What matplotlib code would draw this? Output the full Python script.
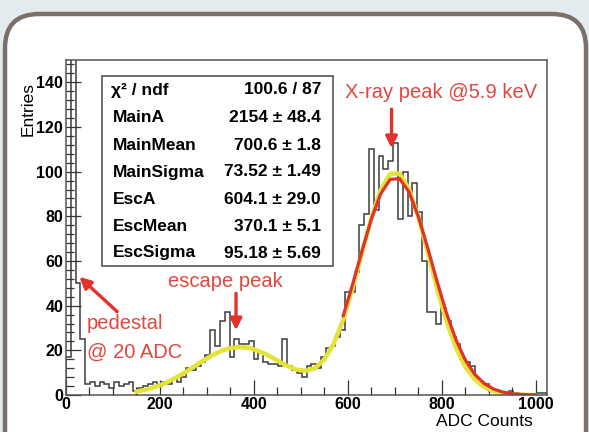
import matplotlib.pyplot as plt
import numpy as np
from matplotlib.patches import FancyBboxPatch, Rectangle
from matplotlib.ticker import MultipleLocator

W, H = 589, 432

# ADC spectrum, 100 bins over 0-1024
n_bins = 100
adc_max = 1024
counts = [
    17, 520, 50, 25, 5, 6, 4, 6, 5, 3,
    6, 4, 5, 6, 2, 3, 4, 5, 6, 4,
    6, 5, 7, 6, 8, 12, 11, 13, 15, 18,
    29, 22, 33, 37, 17, 25, 23, 23, 24, 16,
    19, 15, 14, 14, 13, 25, 13, 11, 10, 8,
    13, 14, 12, 17, 21, 22, 26, 29, 46, 46,
    55, 76, 81, 110, 83, 107, 101, 105, 113, 79,
    100, 80, 95, 82, 60, 37, 37, 32, 39, 33,
    26, 23, 16, 15, 13, 7, 6, 5, 2, 2,
    1, 1, 2, 1, 0, 0, 0, 0, 1, 1,
]

# total fit (yellow)
total_fit_x = [150, 170, 190, 210, 230, 250, 270, 290, 310, 330, 350, 370, 390, 410, 430,
               450, 470, 490, 510, 530, 550, 570, 590, 610, 630, 650, 670, 690, 710, 730,
               750, 770, 790, 810, 830, 850, 870, 890, 910, 930, 950, 970, 990, 1000]
total_fit_y = [1.5, 2.4, 3.6, 5.2, 7.3, 9.7, 12.4, 15.1, 17.6, 19.7, 21.0, 21.5, 21.1, 19.7, 17.8,
               15.4, 13.1, 11.4, 10.8, 12.0, 15.9, 23.0, 33.7, 47.7, 63.6, 79.2, 91.8, 99.0, 99.2, 92.3,
               79.8, 64.1, 47.7, 33.1, 21.3, 12.7, 7.0, 3.6, 1.7, 0.8, 0.3, 0.1, 0.0, 0.0]

# main peak fit (red)
main_fit_x = [590, 610, 630, 650, 670, 690, 710, 730, 750, 770, 790,
              810, 830, 850, 870, 890, 910, 930, 950, 970, 990, 1000]
main_fit_y = [35.4, 49.4, 64.4, 78.7, 90.1, 96.5, 96.9, 91.0, 80.0, 65.9, 50.8,
              36.7, 24.8, 15.7, 9.3, 5.2, 2.7, 1.3, 0.6, 0.25, 0.1, 0.1]

stat_names = ["MainA", "MainMean", "MainSigma", "EscA", "EscMean", "EscSigma"]
stat_values = ["2154 \u00b1 48.4", "700.6 \u00b1 1.8", "73.52 \u00b1 1.49",
               "604.1 \u00b1 29.0", "370.1 \u00b1 5.1", "95.18 \u00b1 5.69"]
chi2_text = "100.6 / 87"

RED = "#e3312b"
RED_TXT = "#e2463f"
YELLOW = "#e4e436"

plt.rcParams["font.family"] = ["Liberation Sans", "DejaVu Sans"]


def fx(x):
    return x / W


def fy(y):
    return 1 - y / H


fig = plt.figure(figsize=(W / 100, H / 100), dpi=100, facecolor="#e3ebef")

# background panel with rounded frame (pixel coordinates)
bg = fig.add_axes([0, 0, 1, 1], zorder=-1)
bg.set_xlim(0, W)
bg.set_ylim(H, 0)
bg.axis("off")
bg.add_patch(FancyBboxPatch((5, 14), 581, 460,
                            boxstyle="round,pad=0,rounding_size=34",
                            facecolor="white", edgecolor="#7b7069", linewidth=3.2))

ax = fig.add_axes([fx(66), fy(395), (547 - 66) / W, (395 - 60) / H])
edges = np.linspace(0, adc_max, n_bins + 1)
ax.stairs(counts, edges, color="#3c3c3c", linewidth=1.1, baseline=0)
ax.plot(total_fit_x, total_fit_y, color=YELLOW, linewidth=3.2, solid_joinstyle="round",
        solid_capstyle="round")
ax.plot(main_fit_x, main_fit_y, color=RED, linewidth=2.3, solid_joinstyle="round",
        solid_capstyle="round")

ax.set_xlim(0, adc_max)
ax.set_ylim(0, 150)
ax.set_xticks([0, 200, 400, 600, 800, 1000])
ax.set_yticks([0, 20, 40, 60, 80, 100, 120, 140])
ax.xaxis.set_minor_locator(MultipleLocator(50))
ax.yaxis.set_minor_locator(MultipleLocator(4))
ax.tick_params(which="major", direction="in", length=11, width=0.9, color="#333333",
               labelsize=11.5, top=False, right=False)
ax.tick_params(which="minor", direction="in", length=6, width=0.9, color="#333333",
               top=False, right=False)
ax.tick_params(axis="y", pad=2)
ax.tick_params(axis="x", pad=1.5)
for lbl in ax.get_xticklabels() + ax.get_yticklabels():
    lbl.set_fontweight("bold")
for sp in ax.spines.values():
    sp.set_color("#555555")
    sp.set_linewidth(1.1)

fig.text(fx(28), fy(82), "Entries", rotation=90, ha="center", va="top", fontsize=12.5)
fig.text(fx(533), fy(422), "ADC Counts", ha="right", va="center", fontsize=12.5)

# annotations
ax.text(798, 135.6, "X-ray peak @5.9 keV", color=RED_TXT, fontsize=14.5,
        ha="center", va="center")
ax.annotate("", xy=(693, 110.5), xytext=(693, 128),
            arrowprops=dict(arrowstyle="-|>", color=RED, lw=2.4, mutation_scale=17,
                            shrinkA=0, shrinkB=0))
ax.text(340, 50.7, "escape peak", color=RED_TXT, fontsize=14.5, ha="center", va="center")
ax.annotate("", xy=(362, 29), xytext=(362, 45.5),
            arrowprops=dict(arrowstyle="-|>", color=RED, lw=2.4, mutation_scale=17,
                            shrinkA=0, shrinkB=0))
ax.text(45, 32.2, "pedestal", color=RED_TXT, fontsize=14.5, ha="left", va="center")
ax.text(45, 19, "@ 20 ADC", color=RED_TXT, fontsize=14.5, ha="left", va="center")
ax.annotate("", xy=(28.4, 52.9), xytext=(109, 37.3),
            arrowprops=dict(arrowstyle="-|>", color=RED, lw=2.4, mutation_scale=17,
                            shrinkA=0, shrinkB=0))

# stats box
fig.patches.append(Rectangle((fx(101.5), fy(266)), (333 - 101.5) / W, (266 - 76) / H,
                             transform=fig.transFigure, facecolor="white",
                             edgecolor="#555555", linewidth=1.2, zorder=4))
row_y = [90, 117.5, 145, 172, 199.5, 227, 253]
fig.text(fx(111), fy(row_y[0]), "\u03c7\u00b2 / ndf", fontsize=12.5, fontweight="bold",
         ha="left", va="center", zorder=5)
fig.text(fx(321), fy(row_y[0]), chi2_text, fontsize=12.5, fontweight="bold",
         ha="right", va="center", zorder=5)
for name, val, yy in zip(stat_names, stat_values, row_y[1:]):
    fig.text(fx(113), fy(yy), name, fontsize=12.5, fontweight="bold",
             ha="left", va="center", zorder=5)
    fig.text(fx(321), fy(yy), val, fontsize=12.5, fontweight="bold",
             ha="right", va="center", zorder=5)

fig.savefig("out.png", dpi=100, facecolor=fig.get_facecolor())
